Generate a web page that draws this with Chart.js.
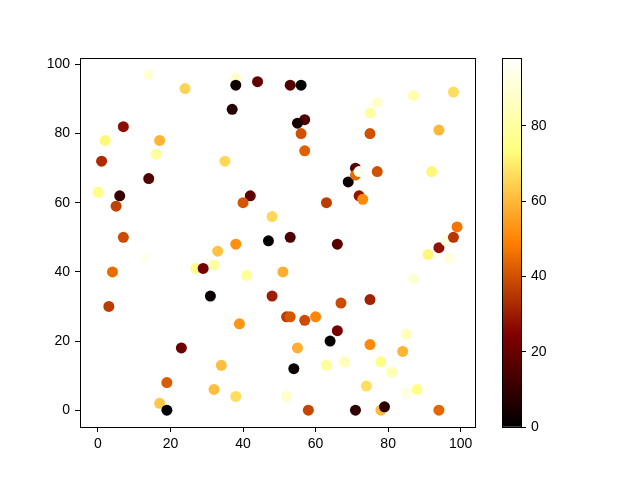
<!DOCTYPE html>
<html>
<head>
<meta charset="utf-8">
<script src="https://cdn.jsdelivr.net/npm/chart.js@4"></script>
<style>
  html, body { margin: 0; padding: 0; background: #fff; }
  #wrap { position: relative; width: 640px; height: 480px; }
  canvas { position: absolute; left: 0; top: 0; }
</style>
</head>
<body>
<div id="wrap">
  <canvas id="scatter" width="640" height="480"></canvas>
  <canvas id="cbar" width="640" height="480"></canvas>
</div>
<script>
// DATA
const xs = [14, 24, 38, 38, 44, 37, 7, 2, 17, 16, 1, 35, 14, 0, 6, 5, 42, 40, 48, 7,
    38, 47, 53, 56, 57, 55, 56, 57, 77, 75, 87, 98, 92, 94, 75, 77, 92, 69, 71, 71,
    72, 72, 73, 63, 53, 66, 99, 94, 96, 98, 91, 97, 33, 13, 4, 27, 29, 32, 41, 51,
    31, 48, 3, 39, 23, 34, 19, 32, 38, 17, 19, 87, 67, 75, 52, 53, 57, 60, 66, 64,
    55, 75, 85, 84, 54, 63, 68, 78, 81, 74, 88, 85, 52, 58, 71, 78, 79, 94];
const ys = [97, 93, 96, 94, 95, 87, 82, 78, 78, 74, 72, 72, 67, 63, 62, 59, 62, 60, 56, 50,
    48, 49, 94, 94, 84, 83, 80, 75, 89, 86, 91, 92, 85, 81, 80, 69, 69, 66, 70, 68,
    69, 62, 61, 60, 50, 48, 53, 47, 49, 50, 45, 44, 46, 44, 40, 41, 41, 42, 39, 40,
    33, 33, 30, 25, 18, 13, 8, 6, 4, 2, 0, 38, 31, 32, 27, 27, 26, 27, 23, 20,
    18, 19, 22, 17, 12, 13, 14, 14, 11, 7, 6, 5, 4, 0, 0, 0, 1, 0];
const cs = [90, 65, 88, 3, 19, 7, 27, 72, 59, 80, 33, 66, 16, 75, 11, 37, 18, 41, 66, 39,
    52, 1, 16, 0, 16, 5, 40, 43, 88, 80, 82, 67, 98, 60, 40, 40, 72, 2, 17, 45,
    95, 28, 51, 36, 15, 17, 47, 28, 92, 35, 72, 92, 62, 95, 45, 75, 22, 80, 78, 58,
    2, 30, 36, 53, 21, 61, 42, 61, 67, 63, 0, 90, 39, 31, 36, 41, 39, 50, 23, 1,
    58, 51, 85, 59, 2, 78, 85, 75, 83, 67, 75, 92, 88, 38, 9, 60, 8, 44];

const xTicks = [0, 20, 40, 60, 80, 100];
const yTicks = [0, 20, 40, 60, 80, 100];
const cTicks = [0, 20, 40, 60, 80];

const cMin = Math.min(...cs);
const cMax = Math.max(...cs);

const FONT = { family: "'Liberation Sans', 'DejaVu Sans', sans-serif", size: 14 };

// afmhot colormap
function afmhot(t) {
    const clip = v => Math.max(0, Math.min(1, v));
    const r = Math.round(255 * clip(2 * t));
    const g = Math.round(255 * clip(2 * t - 0.5));
    const b = Math.round(255 * clip(2 * t - 1));
    return `rgb(${r},${g},${b})`;
}

const colors = cs.map(c => afmhot((c - cMin) / (cMax - cMin)));
const points = xs.map((x, i) => ({ x, y: ys[i] }));

// frame around the plot area (all four spines)
const frame = {
    id: "frame",
    afterDraw(chart) {
        const a = chart.chartArea;
        const ctx = chart.ctx;
        ctx.save();
        ctx.strokeStyle = "#000";
        ctx.lineWidth = 1;
        ctx.strokeRect(Math.round(a.left) + 0.5, Math.round(a.top) + 0.5,
            Math.round(a.right - a.left), Math.round(a.bottom - a.top));
        ctx.restore();
    }
};

const fixedTicks = list => scale => { scale.ticks = list.map(v => ({ value: v })); };

new Chart(document.getElementById("scatter"), {
    type: "scatter",
    data: {
        datasets: [{
            data: points,
            pointBackgroundColor: colors,
            pointBorderWidth: 0,
            pointRadius: 5.5,
            pointHoverRadius: 5.5
        }]
    },
    options: {
        responsive: false,
        animation: false,
        events: [],
        layout: { padding: { left: 0, top: 58, right: 165, bottom: 0 } },
        plugins: { legend: { display: false }, tooltip: { enabled: false } },
        scales: {
            x: {
                type: "linear",
                min: -4.95,
                max: 103.95,
                afterBuildTicks: fixedTicks(xTicks),
                afterFit: s => { s.height = 53; },
                grid: { drawOnChartArea: false, drawTicks: true, tickLength: 5, color: "#000" },
                border: { display: false },
                ticks: { color: "#000", font: FONT, padding: 4, maxRotation: 0 }
            },
            y: {
                type: "linear",
                min: -4.85,
                max: 101.85,
                afterBuildTicks: fixedTicks(yTicks),
                afterFit: s => { s.width = 80; },
                grid: { drawOnChartArea: false, drawTicks: true, tickLength: 5, color: "#000" },
                border: { display: false },
                ticks: { color: "#000", font: FONT, padding: 5 }
            }
        }
    },
    plugins: [frame]
});

// COLORBAR
new Chart(document.getElementById("cbar"), {
    type: "bar",
    data: {
        labels: [""],
        datasets: [{
            data: [[cMin, cMax]],
            barPercentage: 1,
            categoryPercentage: 1,
            borderWidth: 0,
            backgroundColor: ctx => {
                const chart = ctx.chart;
                const area = chart.chartArea;
                if (!area) return "#000";
                const g = chart.ctx.createLinearGradient(0, area.bottom, 0, area.top);
                for (let i = 0; i <= 32; i++) g.addColorStop(i / 32, afmhot(i / 32));
                return g;
            }
        }]
    },
    options: {
        responsive: false,
        animation: false,
        events: [],
        layout: { padding: { left: 502, top: 58, right: 0, bottom: 53 } },
        plugins: { legend: { display: false }, tooltip: { enabled: false } },
        scales: {
            x: { display: false, offset: true },
            y: {
                position: "right",
                min: cMin,
                max: cMax,
                afterBuildTicks: fixedTicks(cTicks),
                afterFit: s => { s.width = 119; },
                grid: { drawOnChartArea: false, drawTicks: true, tickLength: 5, color: "#000" },
                border: { display: false },
                ticks: { color: "#000", font: FONT, padding: 5 }
            }
        }
    },
    plugins: [frame]
});
</script>
</body>
</html>
